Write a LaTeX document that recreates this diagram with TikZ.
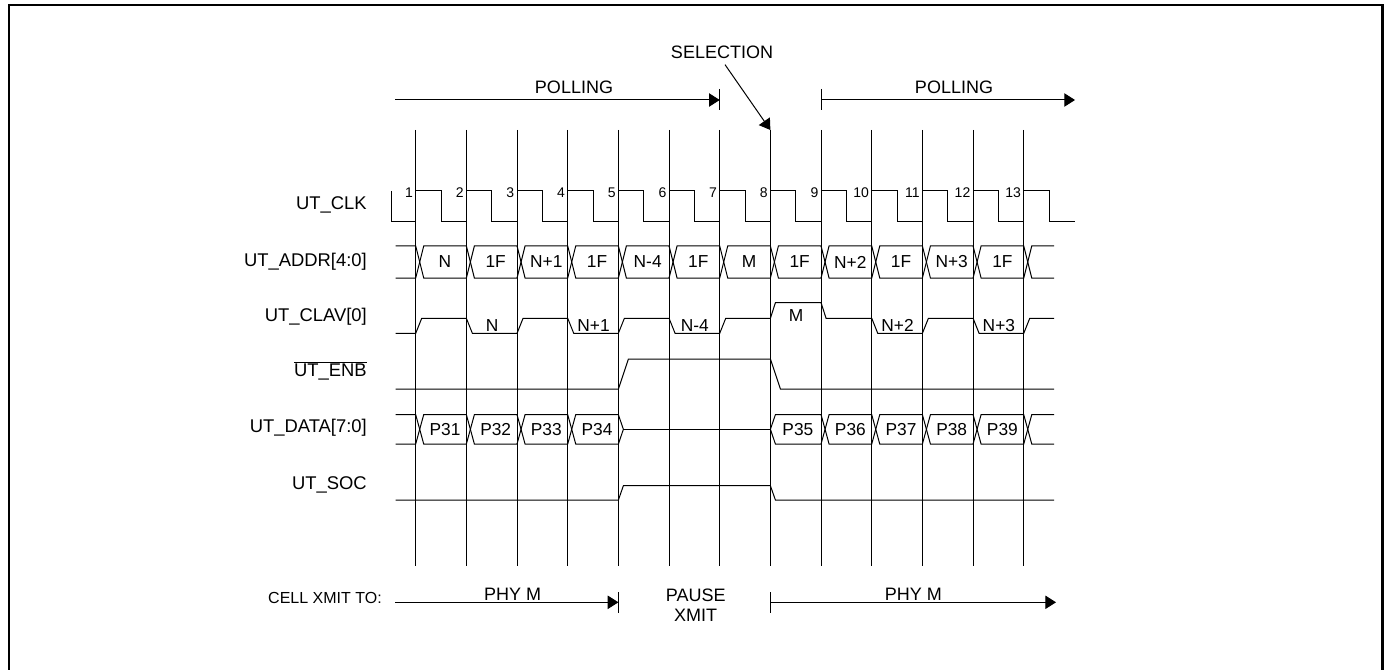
\documentclass[tikz,border=0pt]{standalone}
\usepackage{fontspec}
\setmainfont{Liberation Sans}
\usetikzlibrary{arrows.meta}
% x position of clock edge #1 (pixels)
\newcommand{\edgex}[1]{(415.7+(#1-1)*50.67)}

\begin{document}
\begin{tikzpicture}[x=0.75pt, y=-0.75pt,
    sig/.style={line width=0.75pt, line join=miter},
    grid/.style={line width=0.7pt},
    arr/.style={line width=0.75pt, -{Triangle[length=8pt, width=10pt]}},
    sname/.style={anchor=east, inner sep=0pt, font=\fontsize{13.8}{16}\selectfont},
    buslbl/.style={inner sep=0pt, font=\fontsize{13}{15}\selectfont},
    num/.style={anchor=east, inner sep=0pt, font=\fontsize{10.5}{12}\selectfont},
    note/.style={inner sep=0pt, font=\fontsize{13.5}{15}\selectfont, align=center},
  ]
  \useasboundingbox (0,0) rectangle (1384,670);
  \draw[line width=1.6pt] (9,5) rectangle (1382.5,680);
  % signal names
  \node[sname] (nclk) at (367,205) {UT\_CLK};
  \node[sname] (naddr) at (367,262) {UT\_ADDR[4:0]};
  \node[sname] (nclav) at (367,317) {UT\_CLAV[0]};
  \node[sname] (nenb) at (367,371) {$\overline{\mbox{UT\_ENB}}$};
  \node[sname] (ndata) at (367,428) {UT\_DATA[7:0]};
  \node[sname] (nsoc) at (367,485) {UT\_SOC};
  % clock edges
  \foreach \k in {1,...,13} {
    \draw[grid] ({\edgex{\k}},130) -- ({\edgex{\k}},566);
    \node[num] (clk\k) at ({\edgex{\k}-2.5},193) {\k};
  }
  \draw[sig] (391,191) -- (391,221.7)
    \foreach \k in {1,...,13} { -- ({\edgex{\k}},221.7) -- ({\edgex{\k}},191) -- ({\edgex{\k}+25.3},191) -- ({\edgex{\k}+25.3},221.7) }
    -- (1075,221.7);
  % UT_ADDR
  \draw[sig] (395.7,246) -- ({\edgex{1}},246) -- ({\edgex{1}+4},262) -- ({\edgex{1}},278) -- (395.7,278);
  \foreach \a/\t in {1/N, 2/1F, 3/N+1, 4/1F, 5/N-4, 6/1F, 7/M, 8/1F, 9/N+2, 10/1F, 11/N+3, 12/1F} {
    \draw[sig] ({\edgex{\a}+4},262) -- ({\edgex{\a}+8},246) -- ({\edgex{\a+1}},246) -- ({\edgex{\a+1}+4},262) -- ({\edgex{\a+1}},278) -- ({\edgex{\a}+8},278) -- cycle;
    \node[buslbl] (addr\a) at ({\edgex{\a}+29.3},262) {\t};
  }
  \draw[sig] ({\edgex{13}+4},262) -- ({\edgex{13}+8},246) -- (1054,246);
  \draw[sig] ({\edgex{13}+4},262) -- ({\edgex{13}+8},278) -- (1054,278);
  % UT_CLAV[0]
  \draw[sig] (395.7,333.3) -- ({\edgex{1}},333.3) -- ({\edgex{1}+6},318.3) -- ({\edgex{2}},318.3) -- ({\edgex{2}+6},333.3)
    -- ({\edgex{3}},333.3) -- ({\edgex{3}+6},318.3) -- ({\edgex{4}},318.3) -- ({\edgex{4}+6},333.3)
    -- ({\edgex{5}},333.3) -- ({\edgex{5}+6},318.3) -- ({\edgex{6}},318.3) -- ({\edgex{6}+6},333.3)
    -- ({\edgex{7}},333.3) -- ({\edgex{7}+6},318.3) -- ({\edgex{8}},318.3) -- ({\edgex{8}+5},302.7)
    -- ({\edgex{9}},302.7) -- ({\edgex{9}+5},318.3) -- ({\edgex{10}},318.3) -- ({\edgex{10}+6},333.3)
    -- ({\edgex{11}},333.3) -- ({\edgex{11}+6},318.3) -- ({\edgex{12}},318.3) -- ({\edgex{12}+6},333.3)
    -- ({\edgex{13}},333.3) -- ({\edgex{13}+6},318.3) -- (1054,318.3);
  \foreach \a/\t in {2/N, 4/N+1, 6/N-4, 10/N+2, 12/N+3}
    \node[buslbl] (clav\a) at ({\edgex{\a}+25.8},325.7) {\t};
  \node[buslbl] (clav8) at ({\edgex{8}+25.8},316) {M};
  % UT_ENB
  \draw[sig] (395.7,389) -- ({\edgex{5}},389) -- ({\edgex{5}+10},359) -- ({\edgex{8}},359) -- ({\edgex{8}+10},389) -- (1054,389);
  % UT_DATA
  \draw[sig] (395.7,414.7) -- ({\edgex{1}},414.7) -- ({\edgex{1}+4},429.3) -- ({\edgex{1}},444) -- (395.7,444);
  \foreach \a/\t in {1/P31, 2/P32, 3/P33} {
    \draw[sig] ({\edgex{\a}+4},429.3) -- ({\edgex{\a}+8},414.7) -- ({\edgex{\a+1}},414.7) -- ({\edgex{\a+1}+4},429.3) -- ({\edgex{\a+1}},444) -- ({\edgex{\a}+8},444) -- cycle;
    \node[buslbl] (data\a) at ({\edgex{\a}+29.3},429.3) {\t};
  }
  \draw[sig] ({\edgex{4}+4},429.3) -- ({\edgex{4}+8},414.7) -- ({\edgex{5}},414.7) -- ({\edgex{5}+5},429.3) -- ({\edgex{5}},444) -- ({\edgex{4}+8},444) -- cycle;
  \node[buslbl] (data4) at ({\edgex{4}+29.3},429.3) {P34};
  \draw[sig] ({\edgex{5}+5},429.3) -- ({\edgex{8}},429.3);
  \draw[sig] ({\edgex{8}},429.3) -- ({\edgex{8}+5},414.7) -- ({\edgex{9}},414.7) -- ({\edgex{9}+4},429.3) -- ({\edgex{9}},444) -- ({\edgex{8}+5},444) -- cycle;
  \node[buslbl] (data8) at ({\edgex{8}+27.5},429.3) {P35};
  \foreach \a/\t in {9/P36, 10/P37, 11/P38, 12/P39} {
    \draw[sig] ({\edgex{\a}+4},429.3) -- ({\edgex{\a}+8},414.7) -- ({\edgex{\a+1}},414.7) -- ({\edgex{\a+1}+4},429.3) -- ({\edgex{\a+1}},444) -- ({\edgex{\a}+8},444) -- cycle;
    \node[buslbl] (data\a) at ({\edgex{\a}+29.3},429.3) {\t};
  }
  \draw[sig] ({\edgex{13}+4},429.3) -- ({\edgex{13}+8},414.7) -- (1054,414.7);
  \draw[sig] ({\edgex{13}+4},429.3) -- ({\edgex{13}+8},444) -- (1054,444);
  % UT_SOC
  \draw[sig] (395.7,500) -- ({\edgex{5}},500) -- ({\edgex{5}+5},485.7) -- ({\edgex{8}},485.7) -- ({\edgex{8}+5},500) -- (1054,500);
  % polling / selection
  \node[note] (poll1) at (574,87.7) {POLLING};
  \node[note] (poll2) at (954,87.7) {POLLING};
  \coordinate (p1a) at (395,100);
  \coordinate (p1b) at ({\edgex{7}},100);
  \coordinate (p2a) at ({\edgex{9}},100);
  \coordinate (p2b) at (1075,100);
  \draw[arr] (p1a) -- (p1b);
  \draw[sig] ({\edgex{7}},89) -- ({\edgex{7}},110);
  \draw[sig] ({\edgex{9}},89) -- ({\edgex{9}},110);
  \draw[arr] (p2a) -- (p2b);
  \node[note] (sel) at (722,52) {SELECTION};
  \coordinate (s8) at ({\edgex{8}},130);
  \draw[arr] ([shift={(3,6)}]sel.south) -- (s8);
  % cell transmit
  \node[anchor=east, inner sep=0pt, font=\fontsize{12}{14}\selectfont] (cell) at (382,597.5) {CELL XMIT TO:};
  \coordinate (c1a) at (395,602.3);
  \coordinate (c1b) at ({\edgex{5}},602.3);
  \coordinate (c2a) at ({\edgex{8}},602.3);
  \coordinate (c2b) at (1056,602.3);
  \draw[arr] (c1a) -- (c1b);
  \draw[sig] ({\edgex{5}},592) -- ({\edgex{5}},612.7);
  \draw[sig] ({\edgex{8}},592) -- ({\edgex{8}},612.7);
  \draw[arr] (c2a) -- (c2b);
  \node[note] (phy1) at (512.7,594.3) {PHY M};
  \node[note] (pause) at (695.7,605) {PAUSE\\XMIT};
  \node[note] (phy2) at (913.3,594.3) {PHY M};
\end{tikzpicture}
\end{document}
